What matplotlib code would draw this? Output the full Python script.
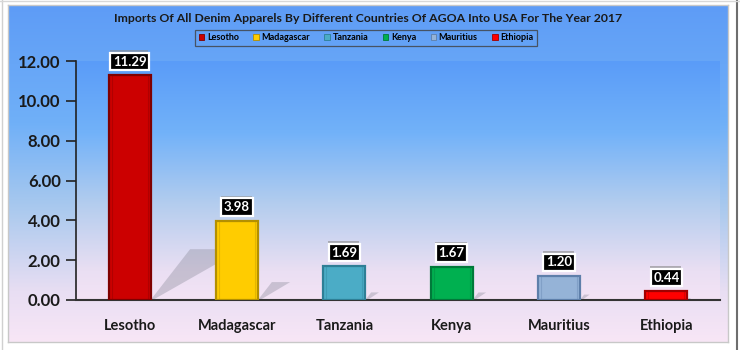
import numpy as np
import matplotlib
matplotlib.use("Agg")
import matplotlib.pyplot as plt
import matplotlib.patheffects as pe
from matplotlib.patches import Patch, Polygon
from matplotlib.colors import LinearSegmentedColormap, to_rgba
from matplotlib.lines import Line2D

countries = ["Lesotho", "Madagascar", "Tanzania", "Kenya", "Mauritius", "Ethiopia"]
values = [11.29, 3.98, 1.69, 1.67, 1.20, 0.44]
bar_colors = ["#CC0000", "#FFCC00", "#4BACC6", "#00B050", "#95B3D7", "#FF0000"]
edge_colors = ["#7F0000", "#B38F00", "#2E7F96", "#007A3A", "#5E7FAA", "#A00000"]
yticks = [0, 2, 4, 6, 8, 10, 12]
title = "Imports Of All Denim Apparels By Different Countries Of AGOA Into USA For The Year 2017"

plt.rcParams["font.family"] = ["Lato", "DejaVu Sans"]
plt.rcParams["font.weight"] = "bold"

W, H = 740, 350
fig = plt.figure(figsize=(W / 100, H / 100), dpi=100)
fig.patch.set_facecolor("white")

def px(x0, y0, x1, y1):
    return [x0 / W, 1 - y1 / H, (x1 - x0) / W, (y1 - y0) / H]

# outer frame lines
fig.add_artist(Line2D([737 / W, 737 / W], [0, 1], color="#6E6E6E", lw=1.5))
fig.add_artist(Line2D([2 / W, 2 / W], [0, 1], color="#D0D0D0", lw=1.0))
fig.add_artist(Line2D([0, 1], [1 - 1 / H, 1 - 1 / H], color="#D8D8D8", lw=1.0))

# chart-area gradient
grad_cmap = LinearSegmentedColormap.from_list(
    "bg",
    [(0.0, "#5E9CF6"), (0.35, "#70B0F8"), (0.6, "#A9C9EE"), (0.85, "#E8DEF3"), (1.0, "#F8E6F6")],
)
bg = fig.add_axes(px(8, 5, 728, 342))
bg.imshow(np.linspace(0, 1, 256).reshape(-1, 1), aspect="auto", cmap=grad_cmap,
          extent=[0, 1, 0, 1], origin="upper")
bg.set_xticks([])
bg.set_yticks([])
for s in bg.spines.values():
    s.set_color("#C8C8C8")
    s.set_linewidth(1.0)
bg.set_zorder(0)

ax = fig.add_axes(px(76, 61, 720, 300))
ax.set_zorder(1)
ax.patch.set_alpha(0)

x = np.arange(len(countries))
width = 0.39

# plot-area gradient
inner_cmap = LinearSegmentedColormap.from_list(
    "inner", [(0.0, "#5A9CF8"), (0.3, "#72B2F9"), (0.6, "#B4CDEE"), (0.88, "#EADFF3"), (1.0, "#F4E3F5")]
)
ax.imshow(np.linspace(0, 1, 256).reshape(-1, 1), aspect="auto", cmap=inner_cmap,
          extent=[-0.5, 5.5, 0, 12], origin="upper", zorder=0)

# cast shadows behind the bars
for xi, v in zip(x, values):
    xr = xi + width / 2
    pts = [(xr, 0), (xr + 0.0326 * v, 0.226 * v), (xr + 0.0755 * v, 0.226 * v), (xr + 0.02, 0)]
    ax.add_patch(Polygon(pts, closed=True, facecolor="#8C8C9C", alpha=0.38,
                         edgecolor="none", zorder=1))

bars = ax.bar(x, values, width=width, color=bar_colors, edgecolor=edge_colors,
              linewidth=1.6, zorder=3)
# inner bevel line
ax.bar(x, values, width=width * 0.86, bottom=0, color="none",
       edgecolor=[to_rgba(c, 0.35) for c in edge_colors], linewidth=0.8, zorder=4)

# value labels
for xi, v in zip(x, values):
    ann = ax.annotate(f"{v:.2f}", (xi, v), xytext=(0, 5.5), textcoords="offset points",
                      ha="center", va="bottom", fontsize=9.5, fontweight="bold", color="white",
                      bbox=dict(boxstyle="square,pad=0.2", fc="black", ec="white", lw=1.6),
                      zorder=6)
    ann.get_bbox_patch().set_path_effects(
        [pe.SimplePatchShadow(offset=(-0.5, 2), shadow_rgbFace="#8A8A8A", alpha=0.6), pe.Normal()]
    )

ax.set_xlim(-0.5, 5.5)
ax.set_ylim(0, 12)
ax.set_yticks(yticks)
ax.set_yticklabels([f"{t:.2f}" for t in yticks], fontsize=12, fontweight="bold", color="#1A1A1A")
ax.set_xticks(x)
ax.set_xticklabels(countries, fontsize=10.5, fontweight="bold", color="#1A1A1A")
ax.tick_params(axis="x", length=0, pad=14)
ax.tick_params(axis="y", length=7, width=1.2, color="#222222", pad=4)
for s in ["top", "right"]:
    ax.spines[s].set_visible(False)
ax.spines["left"].set_color("#222222")
ax.spines["left"].set_linewidth(1.2)
ax.spines["bottom"].set_color("#333333")
ax.spines["bottom"].set_linewidth(1.5)

fig.text(368 / W, 1 - 18 / H, title, ha="center", va="center", fontsize=8.8,
         fontweight="bold", color="#1A1A1A")

handles = [Patch(facecolor=c, edgecolor=e, linewidth=0.6) for c, e in zip(bar_colors, edge_colors)]
leg = fig.legend(handles, countries, loc="center", bbox_to_anchor=(366 / W, 1 - 38 / H),
                 ncol=6, frameon=True, fancybox=False, handlelength=0.6,
                 handleheight=0.6, handletextpad=0.3, columnspacing=1.6, borderpad=0.35,
                 prop={"weight": "bold", "size": 6.5})
leg.get_frame().set_edgecolor("#404040")
leg.get_frame().set_facecolor("none")
leg.get_frame().set_linewidth(0.9)

fig.savefig("out.png", dpi=100)
